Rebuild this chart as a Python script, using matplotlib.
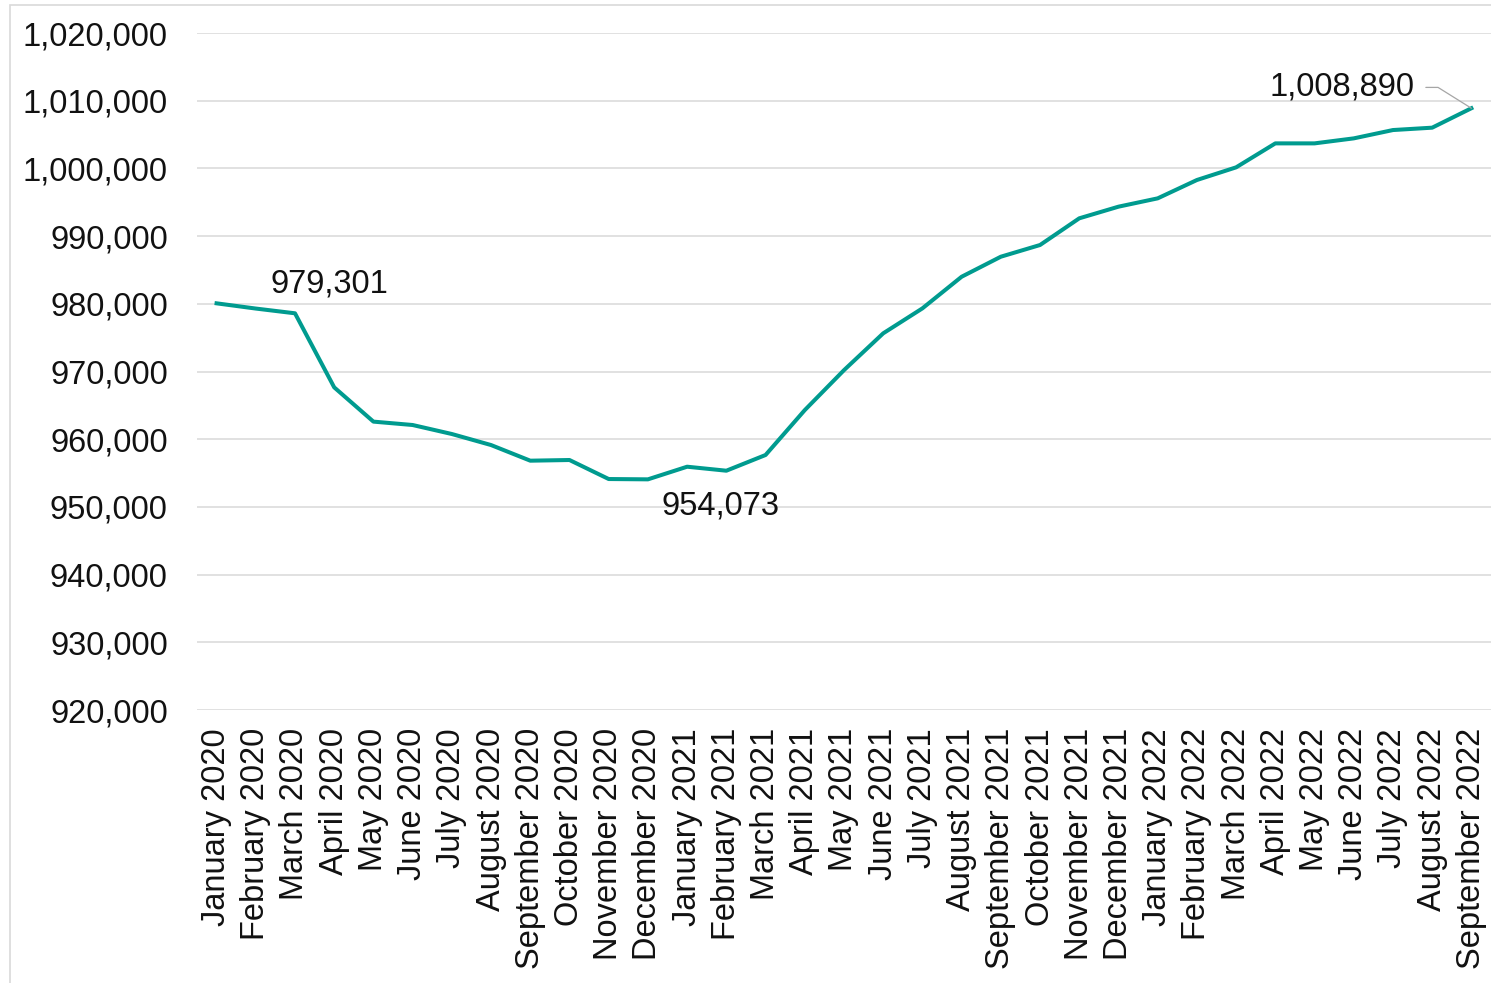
import matplotlib.pyplot as plt
from matplotlib.patches import Rectangle
from matplotlib.ticker import FuncFormatter

plt.rcParams['font.family'] = ['Liberation Sans', 'DejaVu Sans']

months = ['January', 'February', 'March', 'April', 'May', 'June', 'July',
          'August', 'September', 'October', 'November', 'December']
years = [2020, 2021, 2022]
labels = [f'{m} {y}' for y in years for m in months][:33]

values = [980074, 979301, 978600, 967660, 962600, 962100, 960770, 959140,
          956830, 956930, 954120, 954073, 955940, 955350, 957670, 964300,
          970200, 975640, 979330, 984000, 986960, 988690, 992630, 994350,
          995580, 998290, 1000160, 1003700, 1003700, 1004440, 1005670,
          1006020, 1008890]

teal = '#009B8F'
grid_c = '#D9D9D9'
fs = 23.5

fig = plt.figure(figsize=(14.91, 9.83), dpi=100)
ax = fig.add_axes([0.1321, 0.2777, 0.8679, 0.6887])

# light outer frame
fig.patches.append(Rectangle((10 / 1491, -0.05), 1.1, 1 - 5 / 983 + 0.05,
                             transform=fig.transFigure, fill=False,
                             edgecolor=grid_c, lw=1.2))

x = list(range(len(values)))
ax.plot(x, values, color=teal, lw=2.9, solid_joinstyle='round', zorder=3)

ax.set_ylim(920000, 1020000)
ax.set_xlim(-0.5, len(values) - 0.5)
ax.set_yticks(range(920000, 1020001, 10000))
ax.yaxis.set_major_formatter(FuncFormatter(lambda v, p: f'{int(v):,}'))
ax.set_xticks(x)
ax.set_xticklabels(labels, rotation=90)
ax.tick_params(axis='y', length=0, pad=21, labelsize=fs, labelcolor='#111111')
ax.tick_params(axis='x', length=0, pad=13, labelsize=fs, labelcolor='#111111')
ax.grid(axis='y', color=grid_c, lw=1.1, zorder=0)
ax.set_axisbelow(True)
for s in ax.spines.values():
    s.set_visible(False)

# value callouts
i_feb = 1
ax.annotate(f'{values[i_feb]:,}', (x[i_feb], values[i_feb]), xytext=(53, 18),
            textcoords='offset points', ha='center', va='center', fontsize=fs,
            color='#111111')
i_min = values.index(min(values))
ax.annotate(f'{values[i_min]:,}', (x[i_min], values[i_min]), xytext=(52, -19),
            textcoords='offset points', ha='center', va='center', fontsize=fs,
            color='#111111')
ax.annotate(f'{values[-1]:,}', (x[-1], values[-1]), xytext=(-93, 15),
            textcoords='offset points', ha='center', va='center', fontsize=fs,
            color='#111111', annotation_clip=False,
            arrowprops=dict(arrowstyle='-', color='#A6A6A6', lw=0.9,
                            relpos=(1, 0.5), shrinkA=6, shrinkB=0,
                            connectionstyle='angle,angleA=0,angleB=148,rad=0'))

fig.savefig('out.png', dpi=100)
